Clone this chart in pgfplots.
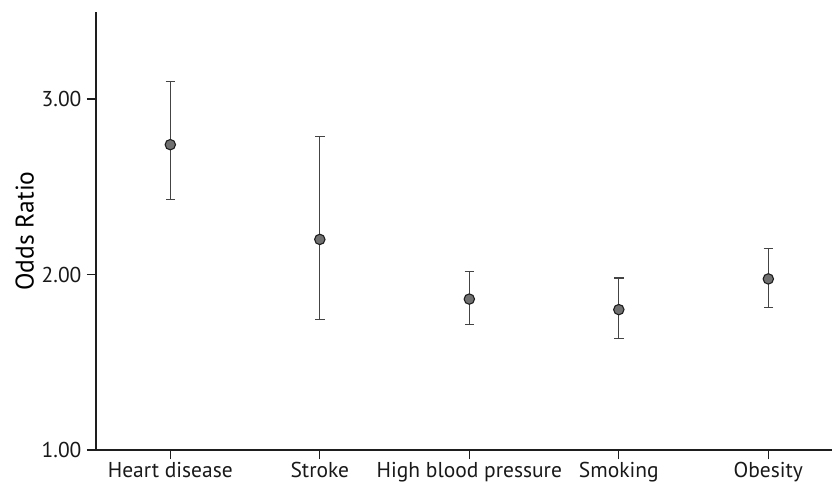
\documentclass[border=0pt]{standalone}
\usepackage{pgfplots}
\pgfplotsset{compat=1.18}
\usepackage{fontspec}
\setmainfont{PT Sans}
\definecolor{axisc}{HTML}{1E1E1E}
\definecolor{barc}{HTML}{444444}
\definecolor{markf}{HTML}{707070}
\begin{document}
\begin{tikzpicture}
\begin{axis}[
  scale only axis,
  width=736pt, height=438pt,
  xmin=-0.497, xmax=4.426,
  ymin=1, ymax=3.496,
  axis x line=bottom, axis y line=left,
  axis line style={-, line width=1.5pt, color=axisc},
  xtick={0,1,2,3,4},
  xticklabels={Heart disease,Stroke,High blood pressure,Smoking,Obesity},
  ytick={1,2,3},
  /pgf/number format/fixed,
  /pgf/number format/fixed zerofill,
  /pgf/number format/precision=2,
  /pgf/number format/assume math mode=true,
  tick style={line width=1.3pt, color=axisc},
  tick align=outside,
  major tick length=9pt,
  ticklabel style={font=\fontsize{21.5}{24}\selectfont, color=black!90},
  xticklabel style={yshift=0pt},
  yticklabel style={xshift=-2pt},
  ylabel={Odds Ratio},
  ylabel style={font=\fontsize{25.5}{28}\selectfont, yshift=1pt},
  clip=false,
]
\addplot[
  only marks,
  mark=*,
  mark size=5.2pt,
  mark options={fill=markf, draw=axisc, line width=1.1pt},
  error bars/.cd,
    y dir=both, y explicit,
    error bar style={line width=1.1pt, color=barc},
    error mark options={rotate=90, mark size=4.8pt, line width=1.1pt, color=barc},
] table[x=x, y=y, y error plus=ep, y error minus=em] {
x y ep em
0 2.740 0.360 0.310
1 2.200 0.585 0.455
2 1.860 0.155 0.145
3 1.800 0.180 0.165
4 1.975 0.175 0.165
};
\end{axis}
\pgfresetboundingbox
\path (-96pt,-35pt) rectangle (736pt,450pt);
\end{tikzpicture}
\end{document}
